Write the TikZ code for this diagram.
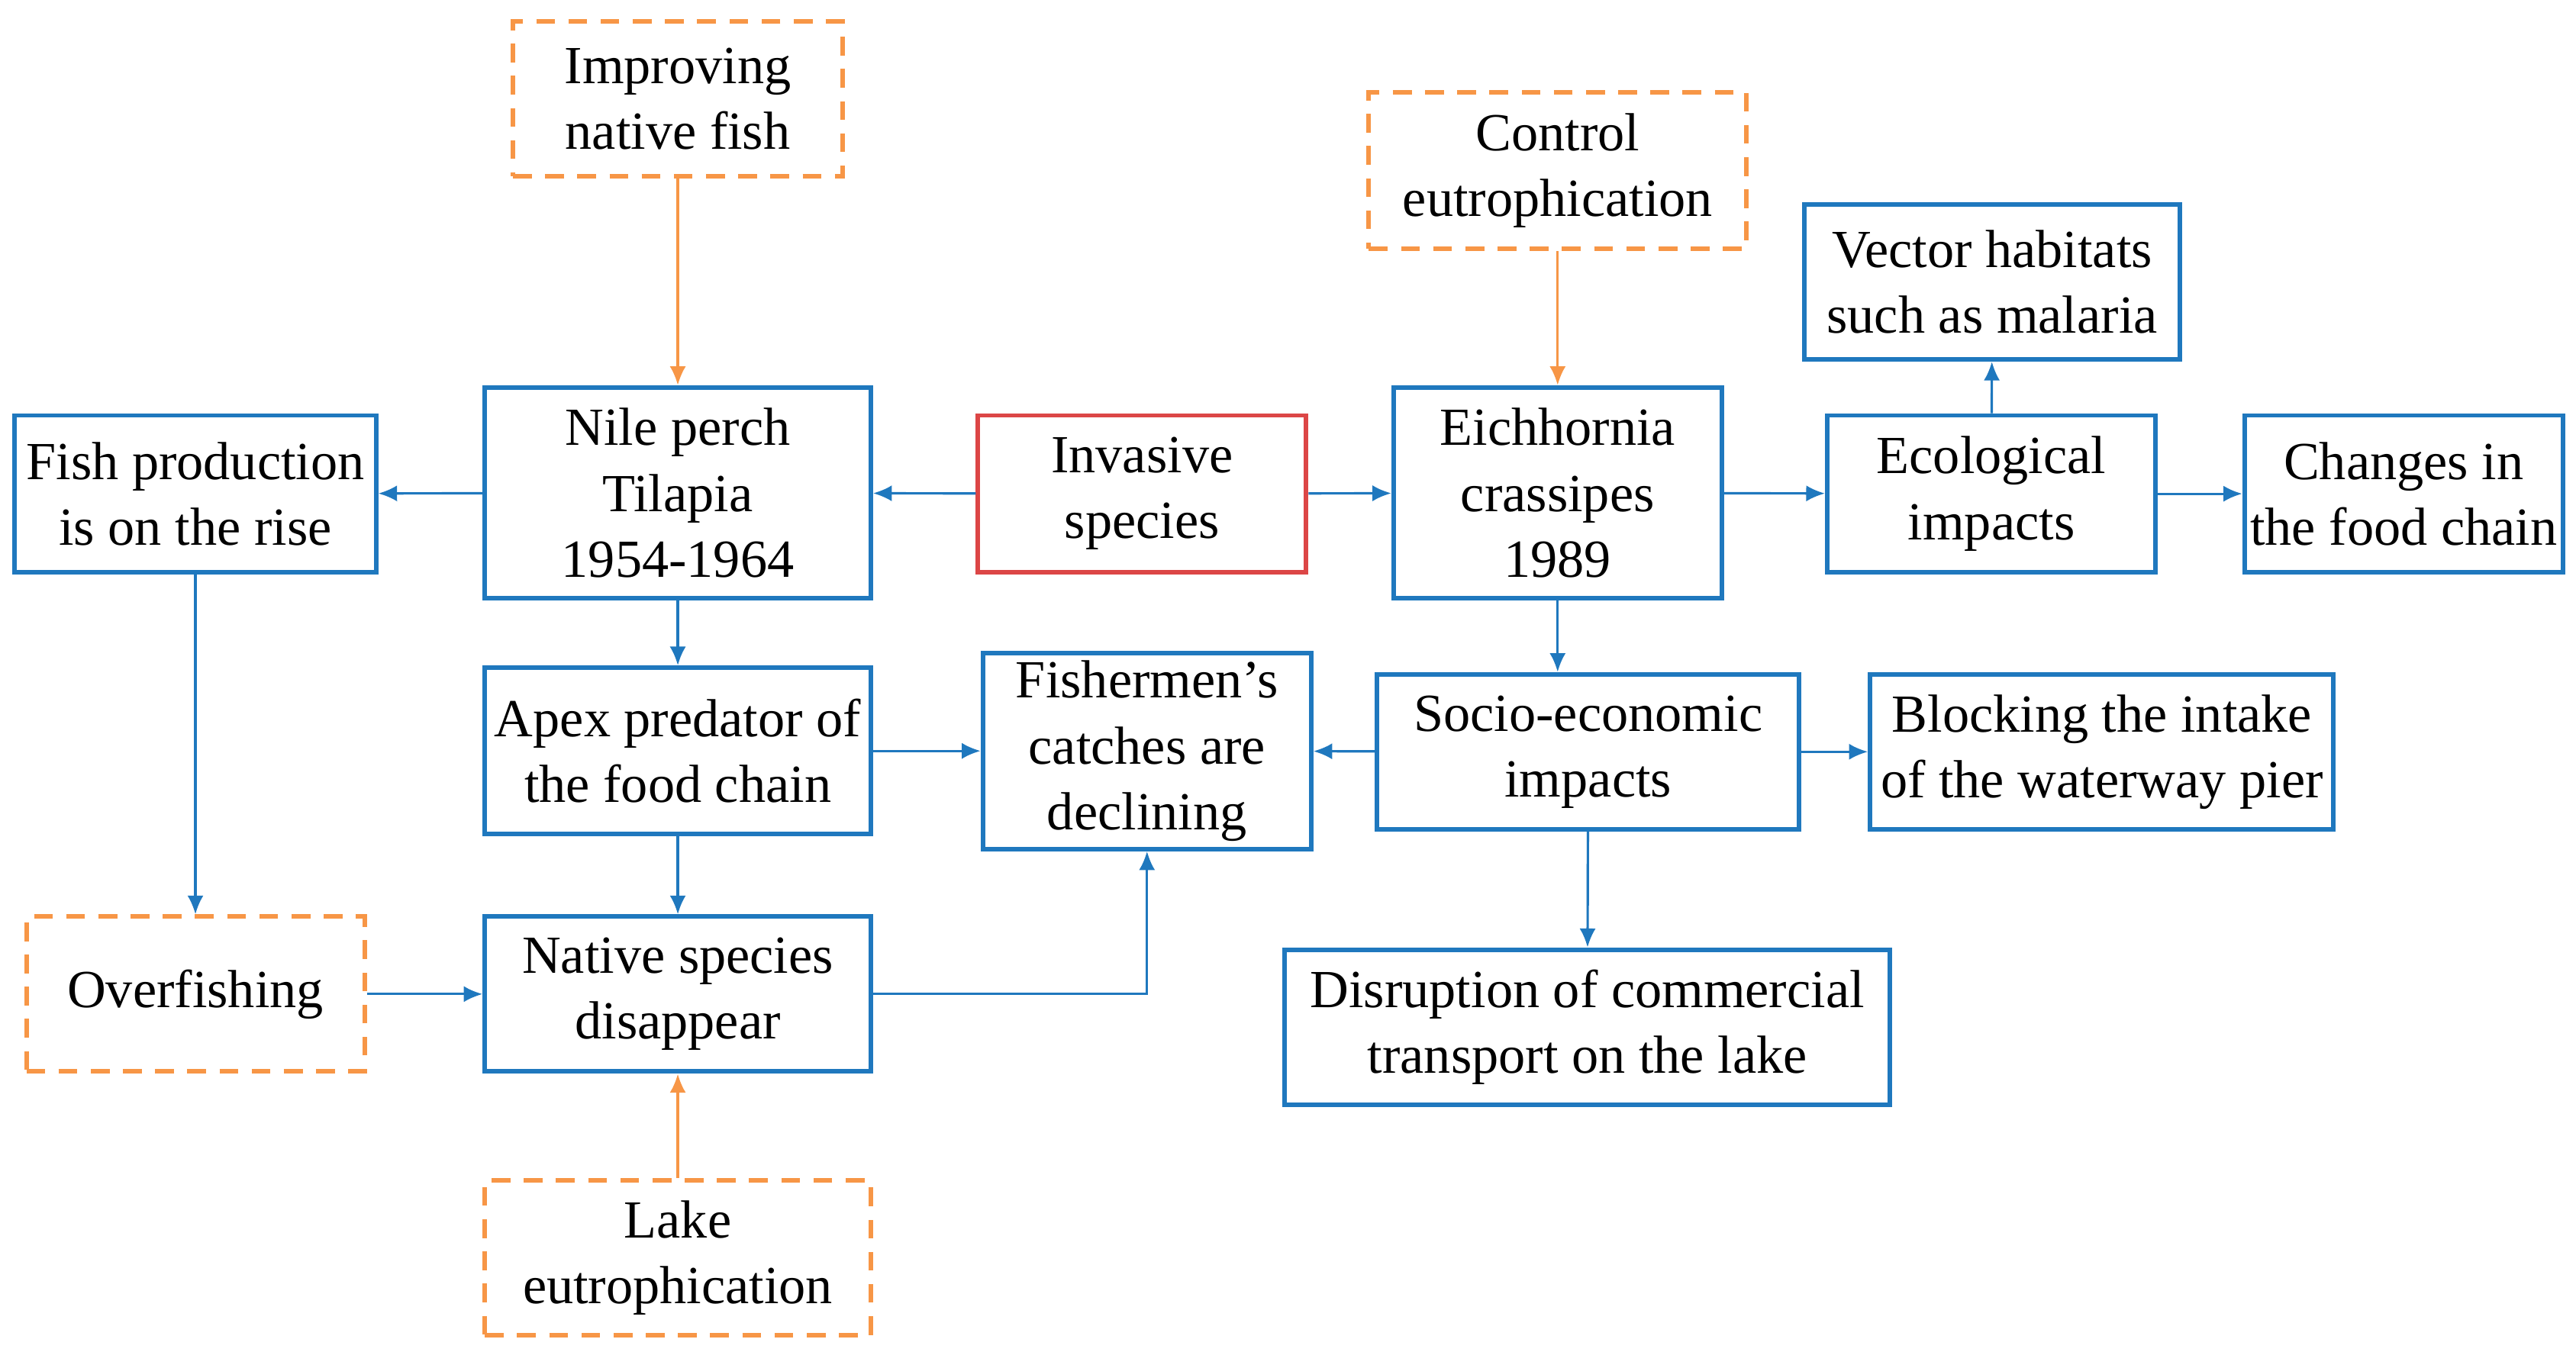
\documentclass[tikz,border=0pt]{standalone}
\usepackage{fontspec}
\setmainfont{Liberation Serif}
\usetikzlibrary{arrows.meta}
\definecolor{bl}{RGB}{31,120,190}
\definecolor{og}{RGB}{247,150,70}
\definecolor{rd}{RGB}{220,70,70}
\newcommand{\bx}[7]{\node[#6, minimum width={(#4-#2)*0.0216cm}, minimum height={(#5-#3)*0.0216cm}] (#1) at ({(#2+#4)/2},{(#3+#5)/2}) {#7};}
\begin{document}
\begin{tikzpicture}[x=0.0216cm,y=-0.0216cm,
 base/.style={draw, line width=1.7pt, inner sep=0pt, align=center, font=\fontsize{20}{24.5}\selectfont},
 box/.style={base, bl},
 dbox/.style={base, og, dash pattern=on 7pt off 5pt},
 rbox/.style={base, rd},
 ar/.style={bl, line width=0.9pt, -{Latex[length=7pt,width=6pt]}},
 oar/.style={og, line width=0.9pt, -{Latex[length=7pt,width=6pt]}}]
\useasboundingbox (0,0) rectangle (1562,820);
\bx{impr}{311}{13}{511}{107}{dbox}{\textcolor{black}{Improving}\\\textcolor{black}{native fish}}
\bx{ctrl}{830}{56}{1059}{151}{dbox}{\textcolor{black}{Control}\\\textcolor{black}{eutrophication}}
\bx{vect}{1094}{124}{1322}{218}{box}{\textcolor{black}{Vector habitats}\\\textcolor{black}{such as malaria}}
\bx{fish}{9}{252}{228}{347}{box}{\textcolor{black}{Fish production}\\\textcolor{black}{is on the rise}}
\bx{nile}{294}{235}{528}{363}{box}{\textcolor{black}{Nile perch}\\\textcolor{black}{Tilapia}\\\textcolor{black}{1954-1964}}
\bx{inv}{593}{252}{792}{347}{rbox}{\textcolor{black}{Invasive}\\\textcolor{black}{species}}
\bx{eich}{845}{235}{1044}{363}{box}{\textcolor{black}{Eichhornia}\\\textcolor{black}{crassipes}\\\textcolor{black}{1989}}
\bx{ecol}{1108}{252}{1307}{347}{box}{\textcolor{black}{Ecological}\\\textcolor{black}{impacts}}
\bx{chg}{1361}{252}{1554}{347}{box}{\textcolor{black}{Changes in}\\\textcolor{black}{the food chain}}
\bx{apex}{294}{405}{528}{506}{box}{\textcolor{black}{Apex predator of}\\\textcolor{black}{the food chain}}
\bx{fm}{596}{396}{795}{515}{box}{\textcolor{black}{Fishermen's}\\\textcolor{black}{catches are}\\\textcolor{black}{declining}}
\bx{socio}{835}{409}{1091}{503}{box}{\textcolor{black}{Socio-economic}\\\textcolor{black}{impacts}}
\bx{blk}{1134}{409}{1415}{503}{box}{\textcolor{black}{Blocking the intake}\\\textcolor{black}{of the waterway pier}}
\bx{over}{16}{556}{221}{650}{dbox}{\textcolor{black}{Overfishing}}
\bx{nat}{294}{556}{528}{650}{box}{\textcolor{black}{Native species}\\\textcolor{black}{disappear}}
\bx{dis}{779}{576}{1146}{670}{box}{\textcolor{black}{Disruption of commercial}\\\textcolor{black}{transport on the lake}}
\bx{lake}{294}{716}{528}{810}{dbox}{\textcolor{black}{Lake}\\\textcolor{black}{eutrophication}}
\draw[oar] (impr) -- (nile);
\draw[oar] (ctrl) -- (eich);
\draw[oar] (lake) -- (nat);
\draw[ar] (inv) -- (nile);
\draw[ar] (inv) -- (eich);
\draw[ar] (nile) -- (fish);
\draw[ar] (nile) -- (apex);
\draw[ar] (apex) -- (fm);
\draw[ar] (apex) -- (nat);
\draw[ar] (fish) -- (over);
\draw[ar] (over) -- (nat);
\draw[ar] (nat.east) -| (fm.south);
\draw[ar] (eich.south) -- (eich.south |- socio.north);
\draw[ar] (socio) -- (fm);
\draw[ar] (socio) -- (blk);
\draw[ar] (socio) -- (dis);
\draw[ar] (eich) -- (ecol);
\draw[ar] (ecol) -- (vect);
\draw[ar] (ecol) -- (chg);
\end{tikzpicture}
\end{document}
